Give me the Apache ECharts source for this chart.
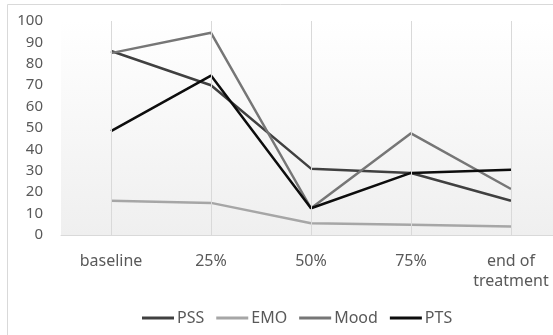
<!DOCTYPE html>
<html>
<head>
<meta charset="utf-8">
<script src="https://cdn.jsdelivr.net/npm/echarts@6/dist/echarts.min.js"></script>
<style>
  html, body { margin: 0; padding: 0; background: #fff; }
  #chart { width: 553px; height: 335px; }
</style>
</head>
<body>
<div id="chart"></div>
<script>
// Scores at each assessment point
const categories = ['baseline', '25%', '50%', '75%', 'end of\ntreatment'];
const pss  = [86, 70, 31, 29, 16];
const emo  = [16, 15, 5.5, 4.8, 4];
const mood = [85, 94.5, 12.5, 47.5, 21.5];
const pts  = [48.5, 74.5, 12.5, 29, 30.5];
const yTicks = { min: 0, max: 100, interval: 10 };

const FONT = 'Noto Sans';
const TEXT = '#595959';

const chart = echarts.init(document.getElementById('chart'));

function lineSeries(name, data, color) {
  return {
    name, type: 'line', data,
    symbol: 'none', z: 3,
    lineStyle: { color, width: 2.5 },
    itemStyle: { color },
    emphasis: { disabled: true }
  };
}

chart.setOption({
  animation: false,
  backgroundColor: '#fff',
  textStyle: { fontFamily: FONT },
  graphic: [{
    type: 'rect',
    shape: { x: 7.5, y: 4.5, width: 700, height: 500 },
    style: { fill: 'none', stroke: '#d9d9d9', lineWidth: 1 },
    silent: true, z: -1
  }],
  grid: {
    left: 61, top: 21, width: 500, height: 214,
    outerBoundsMode: 'none', containLabel: false,
    show: true, borderWidth: 0,
    backgroundColor: new echarts.graphic.LinearGradient(0, 0, 0, 1, [
      { offset: 0, color: '#ffffff' },
      { offset: 1, color: '#efefef' }
    ])
  },
  legend: {
    left: 137, top: 305,
    icon: 'rect', itemWidth: 32, itemHeight: 3, itemGap: 12,
    textStyle: { fontFamily: FONT, fontSize: 16, color: TEXT, padding: [0, 0, 0, -2] },
    selectedMode: false
  },
  xAxis: {
    type: 'category', data: categories, boundaryGap: true,
    axisLine: { lineStyle: { color: '#d9d9d9', width: 1 } },
    axisTick: { show: false },
    splitLine: { show: false },
    axisLabel: { fontFamily: FONT, fontSize: 16, color: TEXT, margin: 16, lineHeight: 20, interval: 0 }
  },
  yAxis: {
    type: 'value', min: yTicks.min, max: yTicks.max, interval: yTicks.interval,
    axisLine: { show: false }, axisTick: { show: false },
    splitLine: { show: false },
    axisLabel: { fontFamily: FONT, fontSize: 15, color: TEXT, margin: 18 }
  },
  series: [
    {
      type: 'line', data: [], z: 1, silent: true,
      markLine: {
        silent: true, symbol: 'none', label: { show: false },
        lineStyle: { color: '#d9d9d9', width: 1, type: 'solid' },
        data: categories.map(c => ({ xAxis: c }))
      }
    },
    lineSeries('PSS', pss, '#404040'),
    lineSeries('EMO', emo, '#a6a6a6'),
    lineSeries('Mood', mood, '#767676'),
    lineSeries('PTS', pts, '#0d0d0d')
  ]
});
</script>
</body>
</html>
